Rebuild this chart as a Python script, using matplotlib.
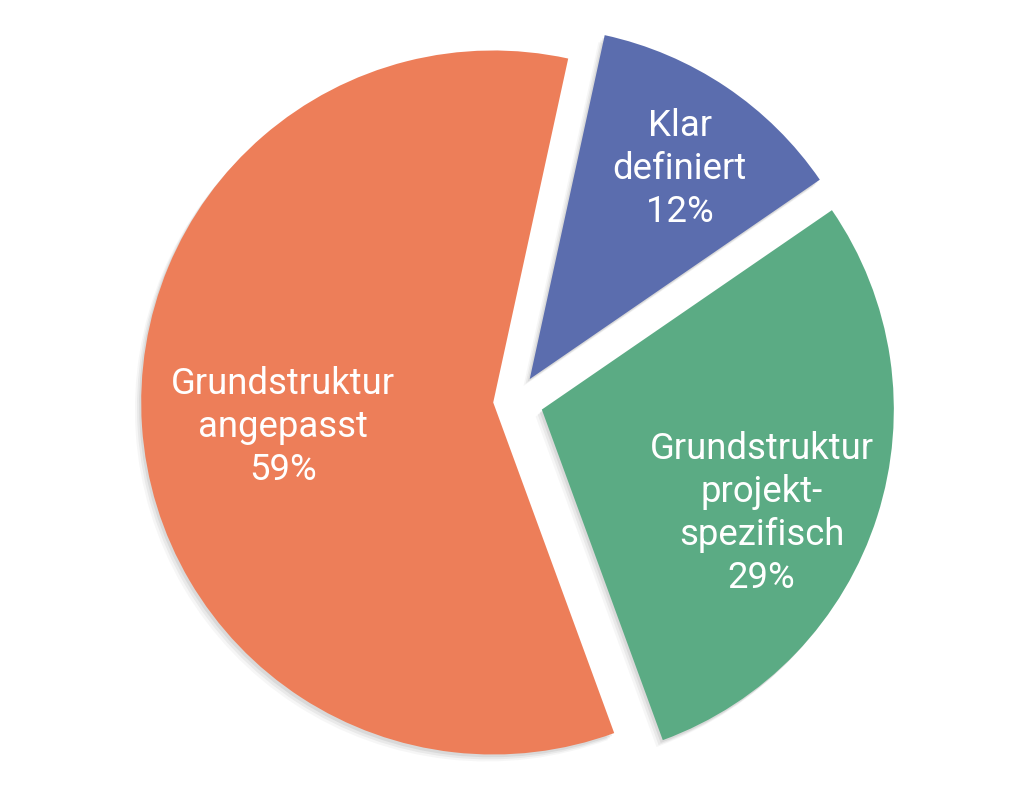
import numpy as np
import matplotlib
matplotlib.use("Agg")
import matplotlib.pyplot as plt
import matplotlib.patheffects as pe

labels = ["Klar\ndefiniert", "Grundstruktur\nprojekt-\nspezifisch", "Grundstruktur\nangepasst"]
shares = [12, 29, 59]
colors = ["#5B6DAE", "#5BAB84", "#ED7E59"]
explode = [0.075, 0.08, 0.062]

# label placement (fraction of radius, angle tweak in degrees)
label_dist = [0.735, 0.69, 0.60]
label_turn = [-1.5, -7.5, 2.5]

plt.rcParams['font.family'] = ['Roboto', 'DejaVu Sans']

fig = plt.figure(figsize=(10.24, 8.04), dpi=100)
ax = fig.add_axes([0, 0, 1, 1])

shadow = [pe.SimplePatchShadow(offset=(-1.5, -2), shadow_rgbFace="#555555", alpha=0.10),
          pe.SimplePatchShadow(offset=(-3, -3.5), shadow_rgbFace="#555555", alpha=0.08),
          pe.SimplePatchShadow(offset=(-4.5, -5), shadow_rgbFace="#555555", alpha=0.05),
          pe.Normal()]

wedges, _ = ax.pie(shares, colors=colors, explode=explode, startangle=77.7,
                   counterclock=False, radius=1.0,
                   wedgeprops=dict(linewidth=0, path_effects=shadow))

for w, lab, val, d, t in zip(wedges, labels, shares, label_dist, label_turn):
    ang = np.deg2rad((w.theta1 + w.theta2) / 2 + t)
    cx, cy = w.center
    ax.text(cx + d * np.cos(ang), cy + d * np.sin(ang), f"{lab}\n{val}%",
            ha="center", va="center", color="white", fontsize=26.3,
            linespacing=1.25)

ax.set_aspect("equal")
ax.set_xlim(-1.4545 - 0.0085, 1.4545 - 0.0085)
ax.set_ylim(-1.142, 1.142)
ax.axis("off")

fig.savefig("out.png", dpi=100, facecolor="white")
